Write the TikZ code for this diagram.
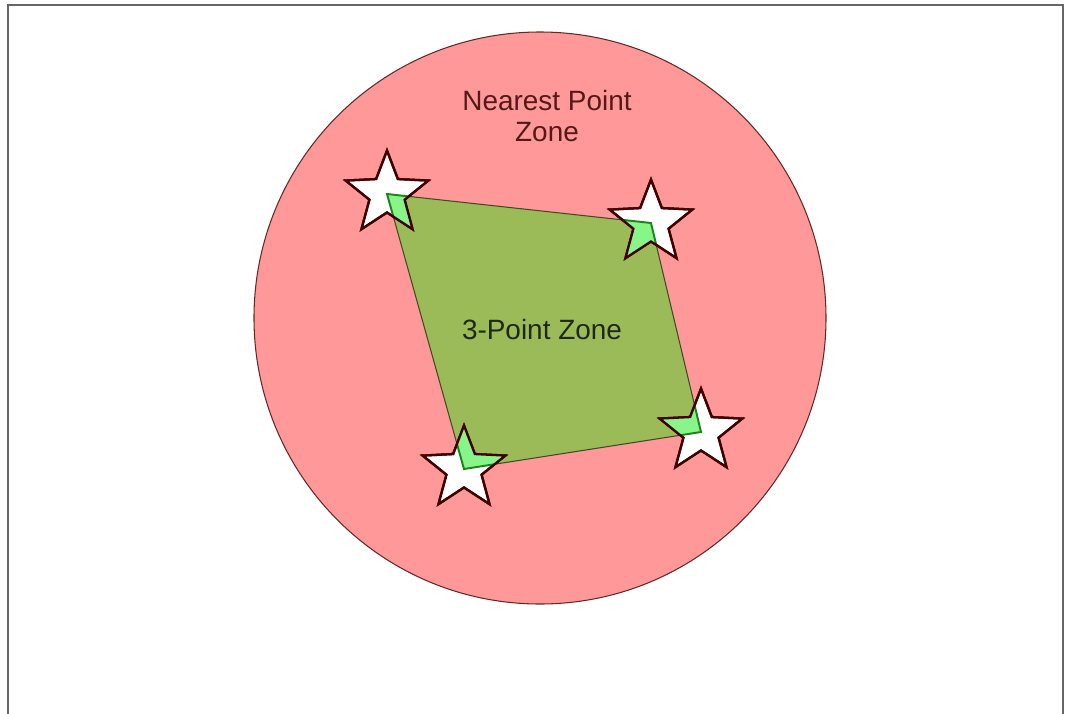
\documentclass[tikz,border=0pt]{standalone}
\usepackage{fontspec}
\setmainfont{Liberation Sans}
\usepackage{xcolor}
\usepackage{tikz}
\usetikzlibrary{calc}

\definecolor{zonepink}{RGB}{255,153,153}
\definecolor{zonegreen}{RGB}{155,187,89}
\definecolor{cornergreen}{RGB}{135,245,135}
\definecolor{edgegreen}{RGB}{30,130,30}
\definecolor{zoneline}{RGB}{100,40,40}
\definecolor{textred}{RGB}{85,25,25}
\definecolor{textdark}{RGB}{30,40,15}

\begin{document}
\begin{tikzpicture}[
  x=0.02cm, y=-0.02cm,
  font=\fontsize{15.9}{18.2}\selectfont,
  frameline/.style={draw=black!60, line width=1.1pt},
  outerzone/.style={fill=zonepink, draw=zoneline, line width=0.6pt},
  innerzone/.style={fill=zonegreen, draw=black!60!zonegreen, line width=0.6pt},
  cornerzone/.style={fill=cornergreen, draw=edgegreen, line width=1.1pt},
  starline/.style={fill=white, draw=black!75!red, line width=1.3pt, miter limit=4}
]
\useasboundingbox (0,0) rectangle (1066,714);
% page frame, open at the bottom
\draw[frameline] (8,714) -- (8,5) -- (1063,5) -- (1063,714);

% zones
\path[outerzone] (540,318) circle [radius=286];
\coordinate (S1) at (387,194);
\coordinate (S2) at (651,223);
\coordinate (S3) at (464,469);
\coordinate (S4) at (701,432);
\path[innerzone] (S1) -- (S2) -- (S4) -- (S3) -- cycle;

\node[text=textred, align=center] (nearest) at (547,116) {Nearest Point\\Zone};
\node[text=textdark] (threept) at (542,330) {3-Point Zone};

% the points, with the zone corner showing through
\foreach \s in {S1,S2,S3,S4}{
  \draw[starline, shift={(\s)}] (270:43.5)
    \foreach \k in {0,...,4}{ -- ({306+72*\k}:18.5) -- ({342+72*\k}:43.5)} -- cycle;
  \begin{scope}
    \clip[shift={(\s)}] (270:43.5)
      \foreach \k in {0,...,4}{ -- ({306+72*\k}:18.5) -- ({342+72*\k}:43.5)} -- cycle;
    \path[cornerzone] (S1) -- (S2) -- (S4) -- (S3) -- cycle;
  \end{scope}
  \draw[starline, fill=none, shift={(\s)}] (270:43.5)
    \foreach \k in {0,...,4}{ -- ({306+72*\k}:18.5) -- ({342+72*\k}:43.5)} -- cycle;
}
\end{tikzpicture}
\end{document}
